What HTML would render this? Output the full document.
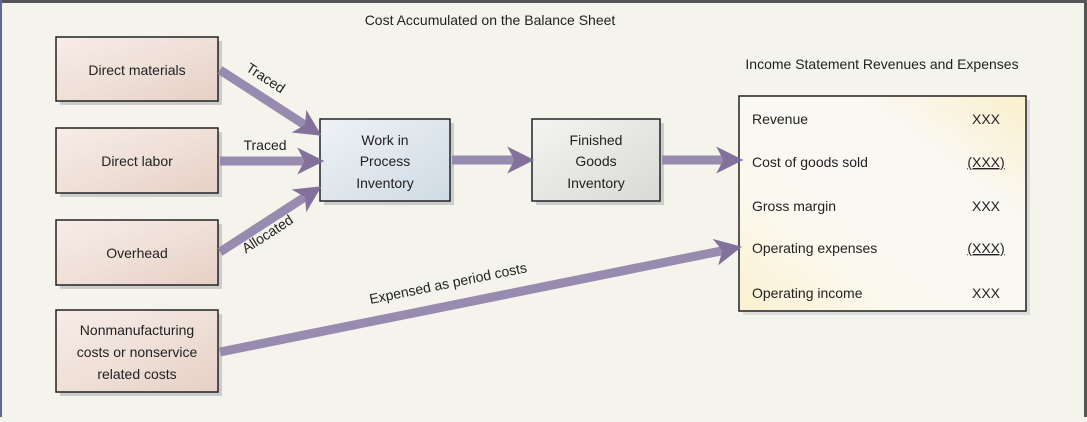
<!DOCTYPE html>
<html><head><style>
body{margin:0;width:1087px;height:417px;overflow:hidden;background:#f4f4ec;font-family:"Liberation Sans",sans-serif;}
</style></head><body>
<svg width="1087" height="417" xmlns="http://www.w3.org/2000/svg" font-family="Liberation Sans, sans-serif" font-size="14" fill="#222">
<defs>
<linearGradient id="pk" x1="0" y1="0" x2="1" y2="1"><stop offset="0" stop-color="#f7ede6"/><stop offset="0.5" stop-color="#efe0d8"/><stop offset="1" stop-color="#e6d0c6"/></linearGradient>
<linearGradient id="bl" x1="0" y1="0" x2="1" y2="1"><stop offset="0" stop-color="#eef2f5"/><stop offset="1" stop-color="#cfdbe4"/></linearGradient>
<linearGradient id="gr" x1="0" y1="0" x2="1" y2="1"><stop offset="0" stop-color="#f4f4f0"/><stop offset="1" stop-color="#d8dad6"/></linearGradient>
<linearGradient id="yl" x1="0" y1="1" x2="1" y2="0"><stop offset="0" stop-color="#fbf1d0"/><stop offset="0.3" stop-color="#fbf9f0"/><stop offset="0.7" stop-color="#f9f8f3"/><stop offset="1" stop-color="#fbefcc"/></linearGradient>
<marker id="ah" markerWidth="3" markerHeight="3" refX="1.2" refY="1.5" orient="auto" markerUnits="strokeWidth"><path d="M0,0 L3,1.5 L0,3 L0.8,1.5 z" fill="#7e6b98"/></marker>
</defs>
<rect x="0" y="0" width="1087" height="3" fill="#555"/>
<rect x="0" y="0" width="2" height="417" fill="#5a6a9a"/>
<rect x="1084" y="0" width="3" height="417" fill="#555"/>
<text x="490" y="25" text-anchor="middle">Cost Accumulated on the Balance Sheet</text>
<text x="882" y="69" text-anchor="middle">Income Statement Revenues and Expenses</text>
<g stroke="#222" stroke-width="1.5">
<rect x="60" y="41" width="162" height="64" fill="#ccc" stroke="none"/>
<rect x="56" y="37" width="162" height="64" fill="url(#pk)"/>
<rect x="60" y="132" width="162" height="65" fill="#ccc" stroke="none"/>
<rect x="56" y="128" width="162" height="65" fill="url(#pk)"/>
<rect x="60" y="224" width="162" height="65" fill="#ccc" stroke="none"/>
<rect x="56" y="220" width="162" height="65" fill="url(#pk)"/>
<rect x="60" y="314" width="162" height="82" fill="#ccc" stroke="none"/>
<rect x="56" y="310" width="162" height="82" fill="url(#pk)"/>
<rect x="324" y="123" width="130" height="82" fill="#ccc" stroke="none"/>
<rect x="320" y="119" width="130" height="82" fill="url(#bl)"/>
<rect x="536" y="123" width="128" height="82" fill="#ccc" stroke="none"/>
<rect x="532" y="119" width="128" height="82" fill="url(#gr)"/>
<rect x="743" y="100" width="287" height="215" fill="#ddd" stroke="none"/>
<rect x="739" y="96" width="287" height="215" fill="url(#yl)"/>
</g>
<g stroke="#9486ad" stroke-width="9" fill="none" marker-end="url(#ah)" opacity="0.95">
<line x1="220" y1="70" x2="308" y2="127"/>
<line x1="220" y1="161" x2="308" y2="161"/>
<line x1="220" y1="252" x2="308" y2="195"/>
<line x1="452" y1="160" x2="518" y2="160"/>
<line x1="662" y1="160" x2="727" y2="160"/>
<line x1="220" y1="352" x2="726" y2="250"/>
</g>
<g text-anchor="middle">
<text x="137" y="75">Direct materials</text>
<text x="137" y="166">Direct labor</text>
<text x="137" y="258">Overhead</text>
<text x="137" y="335">Nonmanufacturing</text>
<text x="137" y="357">costs or nonservice</text>
<text x="137" y="379">related costs</text>
<text x="385" y="145">Work in</text>
<text x="385" y="166">Process</text>
<text x="385" y="188">Inventory</text>
<text x="596" y="145">Finished</text>
<text x="596" y="166">Goods</text>
<text x="596" y="188">Inventory</text>
<text x="265" y="150">Traced</text>
<text transform="translate(263,82) rotate(33)">Traced</text>
<text transform="translate(270,238) rotate(-33)">Allocated</text>
<text transform="translate(449,288) rotate(-11.5)">Expensed as period costs</text>
</g>
<g>
<text x="752" y="124">Revenue</text>
<text x="752" y="167">Cost of goods sold</text>
<text x="752" y="211">Gross margin</text>
<text x="752" y="253">Operating expenses</text>
<text x="752" y="298">Operating income</text>
</g>
<g text-anchor="middle">
<text x="986" y="124">XXX</text>
<text x="986" y="167" text-decoration="underline">(XXX)</text>
<text x="986" y="211">XXX</text>
<text x="986" y="253" text-decoration="underline">(XXX)</text>
<text x="986" y="298">XXX</text>
</g>
</svg>
</body></html>
